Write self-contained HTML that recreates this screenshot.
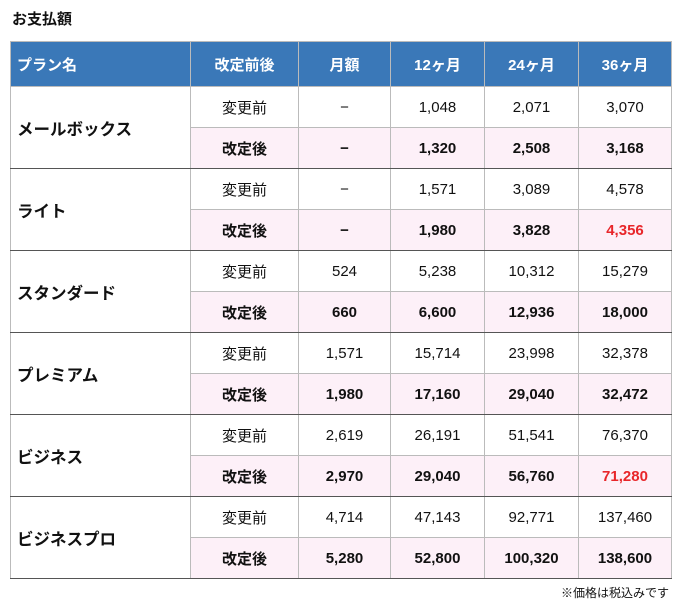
<!DOCTYPE html>
<html><head><meta charset="utf-8"><style>
body{margin:0;background:#fff;font-family:"Liberation Sans","Noto Sans CJK JP",sans-serif;color:#111;}
h1{position:absolute;left:12px;top:8px;margin:0;font-size:15px;font-weight:bold;}
table{position:absolute;left:10px;top:41px;border-collapse:collapse;font-size:15px;}
td,th{border:1px solid #bbb;padding:0;text-align:center;}
th{background:#3a78b8;color:#fff;height:44px;font-weight:bold;}
th:first-child{text-align:left;padding-left:6px;}
td{height:40px;}
td.p{text-align:left;padding-left:6px;font-weight:bold;background:#fff;font-size:16.5px;}
tr.a td{background:#fdf0f8;font-weight:bold;}
tr.a td{border-bottom:1px solid #555;}
td.p{border-bottom:1px solid #555;}
.r{color:#e8262a;}
.n{position:absolute;right:8px;top:584px;font-size:12px;}
</style></head><body>
<h1>お支払額</h1>
<table>
<colgroup><col style="width:180px"><col style="width:108px"><col style="width:92px"><col style="width:94px"><col style="width:94px"><col style="width:93px"></colgroup>
<tr><th>プラン名</th><th>改定前後</th><th>月額</th><th>12ヶ月</th><th>24ヶ月</th><th>36ヶ月</th></tr>
<tr><td class="p" rowspan="2">メールボックス</td><td>変更前</td><td>−</td><td>1,048</td><td>2,071</td><td>3,070</td></tr>
<tr class="a"><td>改定後</td><td>−</td><td>1,320</td><td>2,508</td><td>3,168</td></tr>
<tr><td class="p" rowspan="2">ライト</td><td>変更前</td><td>−</td><td>1,571</td><td>3,089</td><td>4,578</td></tr>
<tr class="a"><td>改定後</td><td>−</td><td>1,980</td><td>3,828</td><td class="r">4,356</td></tr>
<tr><td class="p" rowspan="2">スタンダード</td><td>変更前</td><td>524</td><td>5,238</td><td>10,312</td><td>15,279</td></tr>
<tr class="a"><td>改定後</td><td>660</td><td>6,600</td><td>12,936</td><td>18,000</td></tr>
<tr><td class="p" rowspan="2">プレミアム</td><td>変更前</td><td>1,571</td><td>15,714</td><td>23,998</td><td>32,378</td></tr>
<tr class="a"><td>改定後</td><td>1,980</td><td>17,160</td><td>29,040</td><td>32,472</td></tr>
<tr><td class="p" rowspan="2">ビジネス</td><td>変更前</td><td>2,619</td><td>26,191</td><td>51,541</td><td>76,370</td></tr>
<tr class="a"><td>改定後</td><td>2,970</td><td>29,040</td><td>56,760</td><td class="r">71,280</td></tr>
<tr><td class="p" rowspan="2">ビジネスプロ</td><td>変更前</td><td>4,714</td><td>47,143</td><td>92,771</td><td>137,460</td></tr>
<tr class="a"><td>改定後</td><td>5,280</td><td>52,800</td><td>100,320</td><td>138,600</td></tr>
</table>
<div class="n">※価格は税込みです</div>
</body></html>
